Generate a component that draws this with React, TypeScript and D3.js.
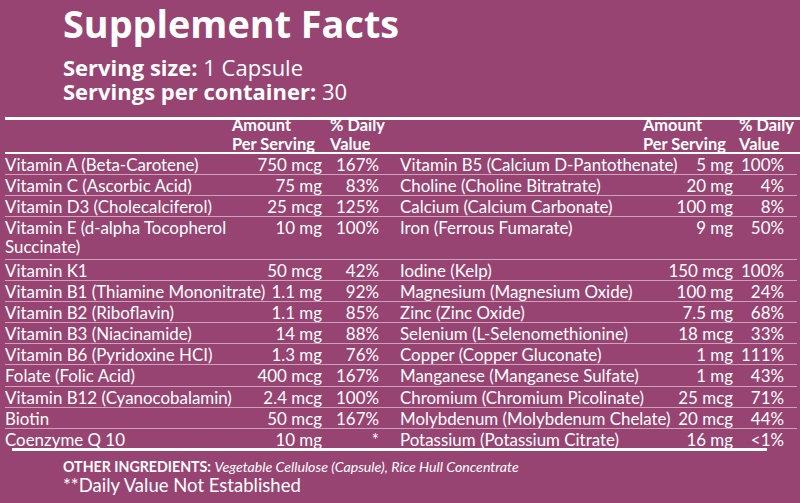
import React, { useEffect, useRef } from 'react';
import * as d3 from 'd3';

const leftNames = [
  ['Vitamin A (Beta-Carotene)'],
  ['Vitamin C (Ascorbic Acid)'],
  ['Vitamin D3 (Cholecalciferol)'],
  ['Vitamin E (d-alpha Tocopherol', 'Succinate)'],
  ['Vitamin K1'],
  ['Vitamin B1 (Thiamine Mononitrate)'],
  ['Vitamin B2 (Riboflavin)'],
  ['Vitamin B3 (Niacinamide)'],
  ['Vitamin B6 (Pyridoxine HCI)'],
  ['Folate (Folic Acid)'],
  ['Vitamin B12 (Cyanocobalamin)'],
  ['Biotin'],
  ['Coenzyme Q 10'],
];
const leftAmounts = ['750 mcg', '75 mg', '25 mcg', '10 mg', '50 mcg', '1.1 mg', '1.1 mg', '14 mg', '1.3 mg', '400 mcg', '2.4 mcg', '50 mcg', '10 mg'];
const leftDV = ['167%', '83%', '125%', '100%', '42%', '92%', '85%', '88%', '76%', '167%', '100%', '167%', '*'];

const rightNames = [
  'Vitamin B5 (Calcium D-Pantothenate)',
  'Choline (Choline Bitratrate)',
  'Calcium (Calcium Carbonate)',
  'Iron (Ferrous Fumarate)',
  'Iodine (Kelp)',
  'Magnesium (Magnesium Oxide)',
  'Zinc (Zinc Oxide)',
  'Selenium (L-Selenomethionine)',
  'Copper (Copper Gluconate)',
  'Manganese (Manganese Sulfate)',
  'Chromium (Chromium Picolinate)',
  'Molybdenum (Molybdenum Chelate)',
  'Potassium (Potassium Citrate)',
];
const rightAmounts = ['5 mg', '20 mg', '100 mg', '9 mg', '150 mcg', '100 mg', '7.5 mg', '18 mcg', '1 mg', '1 mg', '25 mcg', '20 mcg', '16 mg'];
const rightDV = ['100%', '4%', '8%', '50%', '100%', '24%', '68%', '33%', '111%', '43%', '71%', '44%', '<1%'];

const BG = '#974472';
const FONT = 'Lato, sans-serif';
const HEAD_FONT = '"Open Sans", sans-serif';

const App = () => {
  const ref = useRef<SVGSVGElement>(null);

  useEffect(() => {
    const svg = d3.select(ref.current);
    svg.selectAll('*').remove();
    const W = 800, H = 503;

    svg.append('rect').attr('width', W).attr('height', H).attr('fill', BG);

    // titulo
    svg.append('text').attr('x', 63).attr('y', 38)
      .attr('font-family', HEAD_FONT)
      .attr('font-size', 37.8).attr('font-weight', 700).attr('fill', '#fff')
      .text('Supplement Facts');

    const sub = [
      ['Serving size:', ' 1 Capsule', 76],
      ['Servings per container:', ' 30', 100],
    ];
    sub.forEach(([b, r, y]) => {
      const t = svg.append('text').attr('x', 63).attr('y', y as number)
        .attr('font-family', HEAD_FONT)
        .attr('font-size', 22).attr('fill', '#fff');
      t.append('tspan').attr('font-weight', 700).text(b as string);
      t.append('tspan').text(r as string);
    });

    // filas: la vitamina E ocupa dos unidades
    const units = leftNames.map(n => n.length);
    const starts = d3.cumsum([0, ...units]);
    const y = d3.scaleLinear().domain([0, d3.sum(units)]).range([153, 449]);

    // lineas
    svg.append('rect').attr('x', 5).attr('y', 117).attr('width', 795).attr('height', 3).attr('fill', '#fff');
    svg.append('rect').attr('x', 5).attr('y', 152).attr('width', 795).attr('height', 2).attr('fill', '#fff');
    svg.append('g').selectAll('line')
      .data(starts.slice(1, -1))
      .enter().append('line')
      .attr('x1', 5).attr('x2', 797)
      .attr('y1', d => Math.round(y(d)) + 0.5).attr('y2', d => Math.round(y(d)) + 0.5)
      .attr('stroke', '#fff').attr('stroke-opacity', 0.5).attr('stroke-width', 1);
    svg.append('rect').attr('x', 12).attr('y', 448).attr('width', 755).attr('height', 3).attr('fill', '#fff');

    // encabezados
    const cols = [
      { name: 5, amt: 322, dv: 379, hAmt: 232, hDv: 330 },
      { name: 400, amt: 733, dv: 784, hAmt: 643, hDv: 739 },
    ];
    cols.forEach(c => {
      const h = svg.append('g').attr('font-size', 16.4).attr('font-weight', 700).attr('fill', '#fff');
      h.append('text').attr('x', c.hAmt).attr('y', 131).text('Amount');
      h.append('text').attr('x', c.hAmt).attr('y', 150).text('Per Serving');
      h.append('text').attr('x', c.hDv).attr('y', 131).text('% Daily');
      h.append('text').attr('x', c.hDv).attr('y', 150).text('Value');
    });

    const body = svg.append('g').attr('font-size', 16.9).attr('fill', '#fff');
    const drawCol = (names: string[][], amts: string[], dvs: string[], c: typeof cols[0]) => {
      const g = body.append('g');
      names.forEach((n, i) => {
        const base = y(starts[i]) + 18;
        n.forEach((line, j) => {
          g.append('text').attr('x', c.name).attr('y', base + j * 18.5).text(line);
        });
        g.append('text').attr('x', c.amt).attr('y', base).attr('text-anchor', 'end').text(amts[i]);
        g.append('text').attr('x', c.dv).attr('y', base).attr('text-anchor', 'end').text(dvs[i]);
      });
    };
    drawCol(leftNames, leftAmounts, leftDV, cols[0]);
    drawCol(rightNames.map(n => [n]), rightAmounts, rightDV, cols[1]);

    // pie
    const f = svg.append('text').attr('x', 63).attr('y', 472).attr('fill', '#fff').attr('font-size', 14.2);
    f.append('tspan').attr('font-weight', 700).text('OTHER INGREDIENTS: ');
    f.append('tspan').attr('font-style', 'italic').text('Vegetable Cellulose (Capsule), Rice Hull Concentrate');
    svg.append('text').attr('x', 63).attr('y', 492).attr('fill', '#fff').attr('font-size', 18.5)
      .text('**Daily Value Not Established');
  }, []);

  return (
    <svg ref={ref} width={800} height={503}
      style={{ position: 'absolute', left: 0, top: 0, fontFamily: FONT }} />
  );
};

export default App;
